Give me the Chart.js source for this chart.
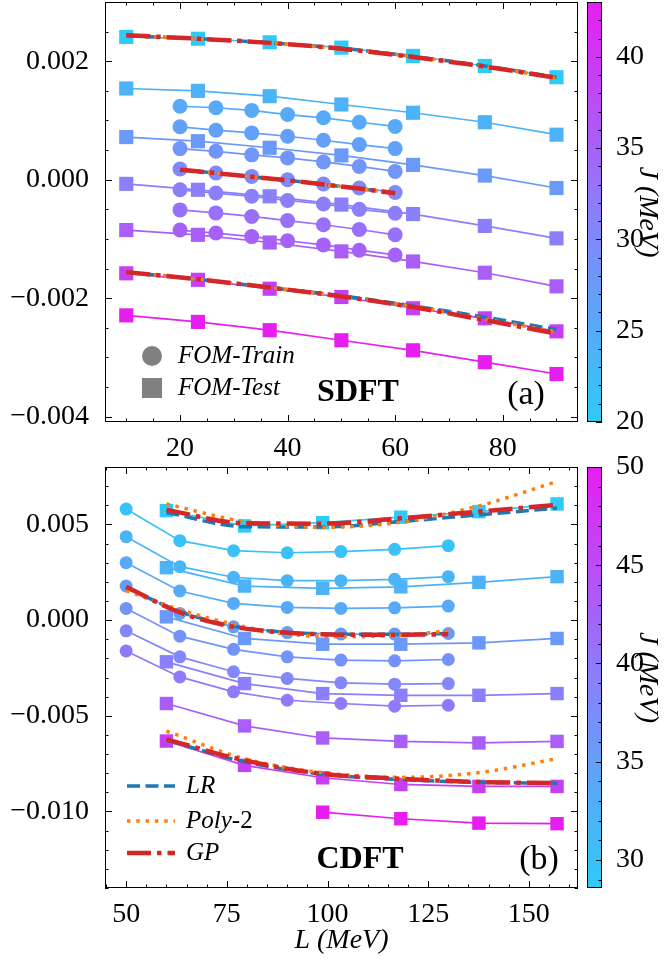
<!DOCTYPE html>
<html>
<head>
<meta charset="utf-8">
<script src="https://cdn.jsdelivr.net/npm/chart.js@4.4.0/dist/chart.umd.min.js"></script>
<style>
  body { margin: 0; background: #fff; }
  #wrap { position: relative; width: 666px; height: 965px; }
  canvas { position: absolute; left: 0; }
  #chartA { top: 0; }
  #chartB { top: 452px; }
</style>
</head>
<body>
<div id="wrap">
  <canvas id="chartA" width="666" height="472"></canvas>
  <canvas id="chartB" width="666" height="513"></canvas>
</div>
<script>
const SERIF = '"Liberation Serif", "DejaVu Serif", serif';
Chart.defaults.font.family = SERIF;
Chart.defaults.color = '#000';

// energies below in units of 1e-3
const MILLI = 1e-3;

//! ---- panel (a) SDFT
const trainL_A = [20, 26.67, 33.33, 40, 46.67, 53.33, 60];
const testL_A  = [10, 23.33, 36.67, 50, 63.33, 76.67, 90];
const trainJ_A = [25, 26.67, 28.33, 30, 31.67, 33.33, 35];
const testJ_A  = [20, 23.83, 27.67, 31.5, 35.33, 39.17, 43];
const trainY_A = [
  [1.24, 1.215, 1.17, 1.10, 1.045, 0.97, 0.90],
  [0.893, 0.836, 0.79, 0.734, 0.666, 0.593, 0.525],
  [0.525, 0.48, 0.42, 0.368, 0.30, 0.225, 0.14],
  [0.18, 0.113, 0.056, 0.0, -0.073, -0.14, -0.215],
  [-0.17, -0.225, -0.28, -0.35, -0.41, -0.50, -0.565],
  [-0.51, -0.56, -0.62, -0.69, -0.76, -0.84, -0.93],
  [-0.85, -0.90, -0.96, -1.03, -1.10, -1.19, -1.27]
];
const testY_A = [
  [2.41, 2.38, 2.32, 2.23, 2.09, 1.92, 1.73],
  [1.54, 1.50, 1.41, 1.27, 1.13, 0.97, 0.76],
  [0.72, 0.65, 0.54, 0.41, 0.25, 0.07, -0.14],
  [-0.07, -0.17, -0.28, -0.42, -0.58, -0.78, -0.99],
  [-0.85, -0.93, -1.06, -1.21, -1.38, -1.57, -1.80],
  [-1.58, -1.69, -1.84, -1.98, -2.17, -2.34, -2.56],
  [-2.29, -2.40, -2.54, -2.71, -2.88, -3.08, -3.28]
];
// model predictions (one row per fitted curve)
const fitL_A = [testL_A, trainL_A, testL_A];
const lrA = [
  [2.43, 2.38, 2.31, 2.22, 2.08, 1.92, 1.73],
  [0.17, 0.11, 0.05, -0.01, -0.08, -0.15, -0.22],
  [-1.56, -1.68, -1.82, -1.96, -2.13, -2.32, -2.53]
];
const polyA = [
  [2.43, 2.38, 2.31, 2.21, 2.08, 1.91, 1.72],
  [0.17, 0.11, 0.05, -0.01, -0.08, -0.15, -0.22],
  [-1.56, -1.68, -1.82, -1.97, -2.14, -2.35, -2.57]
];
const gpA = [
  [2.44, 2.38, 2.31, 2.21, 2.07, 1.91, 1.72],
  [0.17, 0.11, 0.05, -0.01, -0.08, -0.15, -0.23],
  [-1.56, -1.68, -1.82, -1.97, -2.15, -2.37, -2.60]
];
const xTicksA = [20, 40, 60, 80];
const yTicksA = [-0.004, -0.002, 0, 0.002];
const jTicksA = [20, 25, 30, 35, 40];

//! ---- panel (b) CDFT
const trainL_B = [50, 63.33, 76.67, 90, 103.33, 116.67, 130];
const testL_B  = [60, 79.4, 98.8, 118.2, 137.6, 157];
const trainJ_B = [30, 31.67, 33.33, 35, 36.67, 38.33, 40];
const testJ_B  = [28.57, 32.14, 35.71, 39.29, 42.86, 46.43, 50];
const trainY_B = [
  [5.80, 4.15, 3.63, 3.52, 3.58, 3.70, 3.89],
  [4.36, 2.79, 2.24, 2.06, 2.06, 2.13, 2.27],
  [3.00, 1.52, 0.87, 0.66, 0.61, 0.64, 0.73],
  [1.78, 0.35, -0.35, -0.65, -0.73, -0.73, -0.70],
  [0.61, -0.84, -1.53, -1.92, -2.09, -2.13, -2.06],
  [-0.56, -1.92, -2.70, -3.05, -3.28, -3.35, -3.32],
  [-1.61, -2.97, -3.75, -4.19, -4.36, -4.50, -4.45]
];
const testY_B = [
  [5.72, 4.92, 5.09, 5.38, 5.67, 6.07],
  [2.74, 1.78, 1.66, 1.74, 1.97, 2.27],
  [0.17, -0.96, -1.26, -1.26, -1.19, -0.96],
  [-2.18, -3.32, -3.84, -3.93, -3.93, -3.84],
  [-4.36, -5.53, -6.16, -6.34, -6.42, -6.34],
  [-6.32, -7.59, -8.24, -8.59, -8.69, -8.69],
  [null, null, -10.04, -10.38, -10.61, -10.64]
];
const fitL_B = [testL_B, trainL_B, testL_B];
const lrB = [
  [5.62, 4.88, 4.86, 5.15, 5.50, 5.85],
  [1.70, 0.45, -0.32, -0.64, -0.74, -0.74, -0.71],
  [-6.28, -7.40, -8.05, -8.33, -8.48, -8.52]
];
const polyB = [
  [6.07, 5.15, 4.85, 5.12, 5.97, 7.24],
  [1.53, 0.55, -0.22, -0.73, -0.87, -0.80, -0.57],
  [-5.80, -7.24, -7.97, -8.22, -7.97, -7.24]
];
const gpB = [
  [5.76, 5.06, 5.04, 5.32, 5.67, 6.02],
  [1.74, 0.40, -0.35, -0.66, -0.76, -0.77, -0.74],
  [-6.23, -7.33, -8.03, -8.29, -8.46, -8.52]
];
const xTicksB = [50, 75, 100, 125, 150];
const yTicksB = [-0.010, -0.005, 0, 0.005];
const jTicksB = [30, 35, 40, 45, 50];

//! colours and line styles
const CMAP = ['#2ecbf6', '#8a80fb', '#e61ef0'];
const FIT_STYLE = {
  lr:   { color: '#1f77b4', dash: [13, 5.5], width: 3.5, order: 3 },
  poly: { color: '#ff7f0e', dash: [3.5, 5.8], width: 3.5, order: 2 },
  gp:   { color: '#d62728', dash: [24, 6, 4.5, 6], width: 4.5, order: 1 }
};

function hexRgb(h) {
  return [1, 3, 5].map(i => parseInt(h.slice(i, i + 2), 16));
}
function cmapColor(t) {
  t = Math.min(1, Math.max(0, t));
  const seg = t < 0.5 ? 0 : 1;
  const f = (t - seg * 0.5) / 0.5;
  const a = hexRgb(CMAP[seg]), b = hexRgb(CMAP[seg + 1]);
  const c = a.map((v, i) => Math.round(v + (b[i] - v) * f));
  return `rgb(${c[0]},${c[1]},${c[2]})`;
}

function seriesSets(xs, ys, js, jMin, jMax, style, radius) {
  return ys.map((row, i) => {
    const col = cmapColor((js[i] - jMin) / (jMax - jMin));
    const pts = [];
    row.forEach((v, k) => { if (v !== null) pts.push({ x: xs[k], y: v * MILLI }); });
    return {
      data: pts, showLine: true, tension: 0,
      borderColor: col, backgroundColor: col, borderWidth: 1.7,
      pointStyle: style, pointRadius: radius,
      pointBackgroundColor: col, pointBorderColor: col, pointBorderWidth: 0,
      order: 10, clip: false
    };
  });
}

function fitSets(xsList, rows, kind) {
  const s = FIT_STYLE[kind];
  return rows.map((row, i) => ({
    data: row.map((v, k) => ({ x: xsList[i][k], y: v * MILLI })),
    showLine: true, cubicInterpolationMode: 'monotone',
    borderColor: s.color, borderWidth: s.width, borderDash: s.dash,
    borderCapStyle: 'butt', pointRadius: 0, order: s.order, clip: false
  }));
}

function fmtY(v) {
  if (Math.abs(v) < 1e-12) return '0.000';
  return (v < 0 ? '\u2212' : '') + Math.abs(v).toFixed(3);
}

function drawParts(ctx, parts, x, y, size) {
  parts.forEach(([txt, ital]) => {
    ctx.font = (ital ? 'italic ' : '') + size + 'px ' + SERIF;
    ctx.fillText(txt, x, y);
    x += ctx.measureText(txt).width;
  });
}

//! plugin: frame, inward ticks, colour bar, in-axes texts and legends
const decor = {
  id: 'decor',
  afterDraw(chart, args, o) {
    const { ctx, chartArea: a } = chart;
    const sx = chart.scales.x, sy = chart.scales.y, cb = chart.scales.cb;
    ctx.save();
    ctx.strokeStyle = '#000';
    ctx.lineWidth = 1;

    const range = (scale, step) => {
      const out = [];
      for (let k = Math.ceil(scale.min / step - 1e-9); k * step <= scale.max + 1e-12; k++) out.push(k * step);
      return out;
    };
    ctx.beginPath();
    const xMajor = sx.ticks.map(t => t.value);
    range(sx, o.xMinor).forEach(v => {
      const len = xMajor.some(m => Math.abs(m - v) < 1e-9) ? 7 : 3.5;
      const p = Math.round(sx.getPixelForValue(v)) + 0.5;
      ctx.moveTo(p, a.bottom); ctx.lineTo(p, a.bottom - len);
      ctx.moveTo(p, a.top); ctx.lineTo(p, a.top + len);
    });
    const yMajor = sy.ticks.map(t => t.value);
    range(sy, o.yMinor).forEach(v => {
      const len = yMajor.some(m => Math.abs(m - v) < o.yMinor * 1e-3) ? 7 : 3.5;
      const p = Math.round(sy.getPixelForValue(v)) + 0.5;
      ctx.moveTo(a.left, p); ctx.lineTo(a.left + len, p);
      ctx.moveTo(a.right, p); ctx.lineTo(a.right - len, p);
    });
    ctx.stroke();
    ctx.strokeRect(a.left + 0.5, a.top + 0.5, a.right - a.left - 1, a.bottom - a.top - 1);

    // colour bar along the J scale
    const x0 = a.right + 9, w = 15;
    const yTop = cb.getPixelForValue(cb.max), yBot = cb.getPixelForValue(cb.min);
    const g = ctx.createLinearGradient(0, yBot, 0, yTop);
    CMAP.forEach((c, i) => g.addColorStop(i / (CMAP.length - 1), c));
    ctx.fillStyle = g;
    ctx.fillRect(x0, yTop, w, yBot - yTop);
    ctx.strokeRect(x0 + 0.5, yTop + 0.5, w - 1, yBot - yTop - 1);
    const jMajor = cb.ticks.map(t => t.value);
    ctx.beginPath();
    range(cb, o.jMinor).forEach(v => {
      const len = jMajor.some(m => Math.abs(m - v) < 1e-6) ? 6 : 3.5;
      const p = Math.round(cb.getPixelForValue(v)) + 0.5;
      ctx.moveTo(x0 + w, p); ctx.lineTo(x0 + w - len, p);
    });
    ctx.stroke();

    // labels inside the axes
    ctx.fillStyle = '#000';
    ctx.textBaseline = 'middle';
    o.texts.forEach(t => {
      ctx.font = t.font;
      ctx.textAlign = 'center';
      ctx.fillText(t.text, t.x, t.y);
    });
    ctx.textAlign = 'left';

    // legend
    o.legend.forEach(it => {
      if (it.marker) {
        ctx.fillStyle = '#808080';
        if (it.marker === 'circle') {
          ctx.beginPath(); ctx.arc(it.mx, it.y, 10, 0, Math.PI * 2); ctx.fill();
        } else {
          ctx.fillRect(it.mx - 10, it.y - 10, 20, 20);
        }
      } else {
        const s = FIT_STYLE[it.line];
        ctx.save();
        ctx.strokeStyle = s.color; ctx.lineWidth = s.width; ctx.setLineDash(s.dash);
        ctx.lineCap = 'butt';
        ctx.beginPath(); ctx.moveTo(it.x0, it.y); ctx.lineTo(it.x1, it.y); ctx.stroke();
        ctx.restore();
      }
      ctx.fillStyle = '#000';
      drawParts(ctx, it.parts, it.tx, it.y, o.legendSize);
    });
    ctx.restore();
  }
};

function makeChart(id, p) {
  const datasets = [
    ...fitSets(p.fitL, p.gp, 'gp'),
    ...fitSets(p.fitL, p.poly, 'poly'),
    ...fitSets(p.fitL, p.lr, 'lr'),
    ...seriesSets(p.trainL, p.trainY, p.trainJ, p.jMin, p.jMax, 'circle', p.rCircle),
    ...seriesSets(p.testL, p.testY, p.testJ, p.jMin, p.jMax, 'rect', p.rRect)
  ];
  const tickFont = { size: 28, family: SERIF };
  return new Chart(document.getElementById(id), {
    type: 'scatter',
    data: { datasets },
    options: {
      responsive: false, animation: false, devicePixelRatio: 1,
      layout: { autoPadding: false, padding: { top: p.padTop, left: 0, right: 0, bottom: 0 } },
      plugins: { legend: { display: false }, tooltip: { enabled: false }, decor: p.decor },
      scales: {
        x: {
          type: 'linear', position: 'bottom', min: p.xMin, max: p.xMax,
          afterBuildTicks: s => { s.ticks = p.xTicks.map(v => ({ value: v })); },
          afterFit: s => { s.height = p.xHeight; s.paddingLeft = 0; s.paddingRight = 0; },
          grid: { display: false }, border: { display: false },
          ticks: { padding: 2, font: tickFont, color: '#000', autoSkip: false, maxRotation: 0, callback: v => String(v) },
          title: p.xTitle
            ? { display: true, text: p.xTitle, color: '#000', font: { size: 28, style: 'italic', family: SERIF }, padding: { top: 0, bottom: 8 } }
            : { display: false }
        },
        y: {
          type: 'linear', position: 'left', min: p.yMin, max: p.yMax,
          afterBuildTicks: s => { s.ticks = p.yTicks.map(v => ({ value: v })); },
          afterFit: s => { s.width = 105; s.paddingTop = 0; s.paddingBottom = 0; },
          grid: { display: false }, border: { display: false },
          ticks: { padding: 8, font: tickFont, color: '#000', autoSkip: false, callback: fmtY }
        },
        cb: {
          type: 'linear', position: 'right', display: true, min: p.jMin, max: p.jMax,
          afterBuildTicks: s => { s.ticks = p.jTicks.map(v => ({ value: v })); },
          afterFit: s => { s.width = 88; s.paddingTop = 0; s.paddingBottom = 0; },
          grid: { display: false }, border: { display: false },
          ticks: { padding: 30, font: tickFont, color: '#000', autoSkip: false, callback: v => String(v) },
          title: { display: true, text: 'J (MeV)', color: '#000', font: { size: 28, style: 'italic', family: SERIF }, padding: { top: 2, bottom: 0 } }
        }
      }
    },
    plugins: [decor]
  });
}

makeChart('chartA', {
  trainL: trainL_A, testL: testL_A, trainJ: trainJ_A, testJ: testJ_A,
  trainY: trainY_A, testY: testY_A, fitL: fitL_A, lr: lrA, poly: polyA, gp: gpA,
  xMin: 6.05, xMax: 94.0, yMin: -0.00409, yMax: 0.0030, jMin: 20, jMax: 43,
  xTicks: xTicksA, yTicks: yTicksA, jTicks: jTicksA,
  rCircle: 7.5, rRect: 10, padTop: 2, xHeight: 50, xTitle: null,
  decor: {
    xMinor: 5, yMinor: 0.0005, jMinor: 1, legendSize: 25,
    texts: [
      { text: 'SDFT', x: 358, y: 393, font: 'bold 32px ' + SERIF },
      { text: '(a)', x: 526, y: 395, font: '34px ' + SERIF }
    ],
    legend: [
      { marker: 'circle', mx: 152, y: 356, tx: 178, parts: [['FOM', 1], ['-', 0], ['Train', 1]] },
      { marker: 'rect', mx: 152, y: 388, tx: 178, parts: [['FOM', 1], ['-', 0], ['Test', 1]] }
    ]
  }
});

makeChart('chartB', {
  trainL: trainL_B, testL: testL_B, trainJ: trainJ_B, testJ: testJ_B,
  trainY: trainY_B, testY: testY_B, fitL: fitL_B, lr: lrB, poly: polyB, gp: gpB,
  xMin: 44.75, xMax: 162.2, yMin: -0.0140, yMax: 0.0080, jMin: 28.57, jMax: 50,
  xTicks: xTicksB, yTicks: yTicksB, jTicks: jTicksB,
  rCircle: 6.5, rRect: 9.5, padTop: 15, xHeight: 77, xTitle: 'L (MeV)',
  decor: {
    xMinor: 5, yMinor: 0.001, jMinor: 1, legendSize: 25,
    texts: [
      { text: 'CDFT', x: 360, y: 408, font: 'bold 32px ' + SERIF },
      { text: '(b)', x: 539, y: 408, font: '34px ' + SERIF }
    ],
    legend: [
      { line: 'lr', x0: 127, x1: 175, y: 334, tx: 186, parts: [['LR', 1]] },
      { line: 'poly', x0: 127, x1: 175, y: 369, tx: 186, parts: [['Poly', 1], ['-2', 0]] },
      { line: 'gp', x0: 127, x1: 175, y: 401, tx: 186, parts: [['GP', 1]] }
    ]
  }
});
</script>
</body>
</html>
